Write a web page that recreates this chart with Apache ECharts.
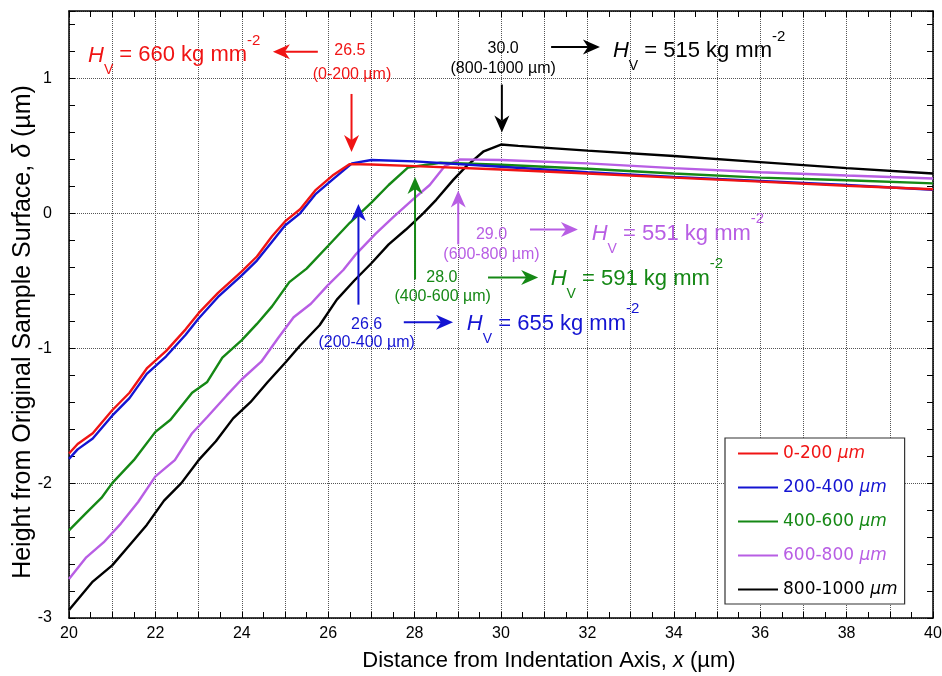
<!DOCTYPE html>
<html>
<head>
<meta charset="utf-8">
<script src="https://cdn.jsdelivr.net/npm/echarts@6/dist/echarts.min.js"></script>
<style>
  html, body { margin: 0; padding: 0; background: #fff; }
  #chart { width: 942px; height: 676px; }
</style>
</head>
<body>
<div id="chart"></div>
<script>
// profile x positions (µm) and heights (µm)
const xRed = [20, 20.2, 20.55, 21, 21.4, 21.8, 22.25, 22.7, 23, 23.45, 24, 24.35, 24.7, 25, 25.35, 25.7, 26.1, 26.5, 27, 28, 30, 32, 34, 36, 38, 40];
const yRed = [-1.78, -1.71, -1.63, -1.46, -1.33, -1.15, -1.02, -0.86, -0.74, -0.59, -0.43, -0.32, -0.17, -0.06, 0.03, 0.17, 0.28, 0.365, 0.362, 0.35, 0.325, 0.295, 0.265, 0.235, 0.205, 0.178];

const xBlue = [20, 20.2, 20.55, 21, 21.4, 21.8, 22.25, 22.7, 23, 23.45, 24, 24.35, 24.7, 25, 25.35, 25.7, 26.1, 26.55, 27, 28, 30, 32, 34, 36, 38, 40];
const yBlue = [-1.82, -1.75, -1.67, -1.5, -1.37, -1.19, -1.06, -0.9, -0.78, -0.62, -0.46, -0.35, -0.21, -0.09, 0, 0.14, 0.25, 0.37, 0.395, 0.385, 0.345, 0.305, 0.27, 0.24, 0.21, 0.175];

const xGreen = [20, 20.4, 20.75, 21, 21.5, 22, 22.35, 22.85, 23.2, 23.55, 24, 24.35, 24.7, 25.1, 25.5, 26, 26.5, 27, 27.4, 27.85, 28.6, 30, 32, 34, 36, 38, 40];
const yGreen = [-2.35, -2.22, -2.11, -2, -1.83, -1.62, -1.53, -1.33, -1.25, -1.07, -0.94, -0.82, -0.69, -0.51, -0.41, -0.24, -0.07, 0.08, 0.21, 0.34, 0.375, 0.36, 0.33, 0.295, 0.265, 0.245, 0.222];

const xPurple = [20, 20.4, 20.8, 21.2, 21.6, 22, 22.45, 22.85, 23.2, 23.65, 24, 24.45, 24.85, 25.2, 25.6, 26, 26.35, 26.65, 27.1, 27.5, 27.95, 28.35, 28.7, 29.05, 30, 32, 34, 36, 38, 40];
const yPurple = [-2.71, -2.55, -2.44, -2.3, -2.14, -1.95, -1.83, -1.63, -1.51, -1.35, -1.23, -1.1, -0.92, -0.77, -0.67, -0.53, -0.42, -0.3, -0.15, -0.03, 0.1, 0.21, 0.35, 0.4, 0.395, 0.37, 0.335, 0.305, 0.28, 0.258];

const xBlack = [20, 20.55, 21, 21.4, 21.8, 22.2, 22.6, 23, 23.4, 23.8, 24.2, 24.6, 25, 25.35, 25.8, 26.2, 26.6, 27, 27.4, 27.8, 28.2, 28.5, 28.9, 29.2, 29.6, 30, 30.4, 32, 34, 36, 38, 40];
const yBlack = [-2.94, -2.73, -2.61, -2.46, -2.31, -2.13, -2, -1.83, -1.69, -1.52, -1.4, -1.25, -1.11, -0.98, -0.83, -0.64, -0.5, -0.37, -0.23, -0.12, 0, 0.1, 0.25, 0.35, 0.46, 0.51, 0.5, 0.465, 0.425, 0.38, 0.335, 0.295];

const seriesNames = ['0-200 µm', '200-400 µm', '400-600 µm', '600-800 µm', '800-1000 µm'];
const seriesColors = ['#f01414', '#1414d2', '#158815', '#b85ee4', '#000000'];
const xData = [xRed, xBlue, xGreen, xPurple, xBlack];
const yData = [yRed, yBlue, yGreen, yPurple, yBlack];

// annotations: kink position, depth range, hardness
const peakLabels = ['26.5', '26.6', '28.0', '29.0', '30.0'];
const rangeLabels = ['(0-200 µm)', '(200-400 µm)', '(400-600 µm)', '(600-800 µm)', '(800-1000 µm)'];
const hardness = ['660', '655', '591', '551', '515'];

const FONT = '"Liberation Sans", Arial, Helvetica, sans-serif';
const WIDE = '"DejaVu Sans", Verdana, sans-serif';

const chart = echarts.init(document.getElementById('chart'));

const legendRich = {};
seriesColors.forEach((c, i) => {
  legendRich['t' + i] = { color: c, fontSize: 17, lineHeight: 18, fontFamily: WIDE };
  legendRich['u' + i] = { color: c, fontSize: 17, lineHeight: 18, fontFamily: WIDE, fontStyle: 'italic' };
});

const tickAxisBase = {
  type: 'value',
  axisLine: { show: true, onZero: false, lineStyle: { color: '#000', width: 1.5 } },
  axisTick: { show: true, inside: true, length: 6, lineStyle: { color: '#000', width: 1 } },
  splitLine: { show: false }
};

const option = {
  animation: false,
  backgroundColor: '#fff',
  textStyle: { fontFamily: FONT },
  grid: { left: 69, right: 9, top: 11, bottom: 58, containLabel: false, outerBoundsMode: 'none' },
  legend: {
    orient: 'vertical',
    left: 725,
    top: 438,
    padding: [7, 7, 6, 12],
    itemWidth: 40,
    itemHeight: 14,
    itemGap: 17,
    backgroundColor: '#fff',
    borderColor: '#333',
    borderWidth: 1.2,
    borderRadius: 0,
    itemStyle: { opacity: 0 },
    data: seriesNames,
    textStyle: { fontSize: 17, rich: legendRich },
    formatter: name => {
      const i = seriesNames.indexOf(name);
      return `{t${i}|${name.replace(' µm', ' ')}}{u${i}|µm}`;
    }
  },
  xAxis: [
    Object.assign({}, tickAxisBase, {
      min: 20, max: 40, interval: 1, position: 'bottom',
      minorTick: { show: true, splitNumber: 2, length: 6, lineStyle: { color: '#000' } },
      axisLabel: { color: '#000', fontSize: 16, margin: 8, formatter: v => (v % 2 === 0 ? String(v) : '') },
      splitLine: { show: true, lineStyle: { type: 'dotted', color: '#555', width: 1 } },
      name: '{a|Distance from Indentation Axis, }{i|x}{a| (µm)}',
      nameLocation: 'middle',
      nameGap: 32,
      nameMoveOverlap: false,
      nameTextStyle: {
        padding: [0, 0, 0, 96],
        rich: {
          a: { fontSize: 22, color: '#000', fontFamily: FONT },
          i: { fontSize: 22, color: '#000', fontFamily: FONT, fontStyle: 'italic' }
        }
      }
    }),
    Object.assign({}, tickAxisBase, {
      min: 20, max: 40, interval: 1, position: 'top',
      minorTick: { show: true, splitNumber: 2, length: 6, lineStyle: { color: '#000' } },
      axisLabel: { show: false }
    })
  ],
  yAxis: [
    Object.assign({}, tickAxisBase, {
      min: -3, max: 1.5, interval: 0.2, position: 'left',
      axisLabel: {
        color: '#000', fontSize: 16, margin: 17,
        formatter: v => (Math.abs(v - Math.round(v)) < 1e-6 ? String(Math.round(v)) : '')
      },
      name: '{a|Height from Original Sample Surface, }{i|δ}{a| (µm)}',
      nameLocation: 'middle',
      nameGap: 33,
      nameMoveOverlap: false,
      nameTextStyle: {
        padding: [0, 35, 0, 0],
        rich: {
          a: { fontSize: 25, color: '#000', fontFamily: FONT },
          i: { fontSize: 25, color: '#000', fontFamily: FONT, fontStyle: 'italic' }
        }
      }
    }),
    Object.assign({}, tickAxisBase, {
      min: -3, max: 1.5, interval: 0.2, position: 'right',
      axisLabel: { show: false }
    }),
    {
      type: 'value', min: -3, max: 1.5, interval: 1, position: 'left',
      axisLine: { show: false }, axisTick: { show: false }, axisLabel: { show: false },
      splitLine: { show: true, lineStyle: { type: 'dotted', color: '#555', width: 1 } }
    }
  ],
  series: seriesNames.map((name, i) => ({
    name: name,
    type: 'line',
    xAxisIndex: 0,
    yAxisIndex: 0,
    symbol: 'none',
    z: 3 + (4 - i),
    lineStyle: { color: seriesColors[i], width: 2.4 },
    itemStyle: { color: seriesColors[i] },
    data: xData[i].map((x, k) => [x, yData[i][k]])
  }))
};

chart.setOption(option);

// arrow placement in data coordinates
const arrows = [
  { c: 0, from: [26.54, 0.885], to: [26.54, 0.455] },
  { c: 0, from: [25.76, 1.197], to: [24.72, 1.197] },
  { c: 4, from: [30.02, 0.955], to: [30.02, 0.6] },
  { c: 4, from: [31.16, 1.234], to: [32.29, 1.234] },
  { c: 1, from: [26.7, -0.677], to: [26.7, 0.07] },
  { c: 1, from: [27.75, -0.808], to: [28.89, -0.808] },
  { c: 2, from: [28.01, -0.49], to: [28.01, 0.27] },
  { c: 2, from: [29.7, -0.476], to: [30.86, -0.476] },
  { c: 3, from: [29.01, -0.23], to: [29.01, 0.17] },
  { c: 3, from: [30.67, -0.119], to: [31.78, -0.119] }
];
// order matches peakLabels / rangeLabels / hardness
const peakPos = [[26.5, 1.204], [26.89, -0.825], [28.63, -0.476], [29.78, -0.156], [30.05, 1.219]];
const rangePos = [[26.55, 1.026], [26.89, -0.959], [28.65, -0.615], [29.78, -0.305], [30.05, 1.071]];
const hvPos = [[20.44, 1.171], [29.21, -0.819], [31.15, -0.485], [32.1, -0.151], [32.59, 1.204]];

const toPx = p => chart.convertToPixel({ xAxisIndex: 0, yAxisIndex: 0 }, p);

const graphics = [];
arrows.forEach(a => {
  const p1 = toPx(a.from), p2 = toPx(a.to);
  const color = seriesColors[a.c];
  const dx = p2[0] - p1[0], dy = p2[1] - p1[1];
  const len = Math.hypot(dx, dy);
  const ux = dx / len, uy = dy / len;
  const L = 17, W = 7.5, notch = 12;
  const base = [p2[0] - ux * notch, p2[1] - uy * notch];
  graphics.push({
    type: 'line', z: 20,
    shape: { x1: p1[0], y1: p1[1], x2: base[0], y2: base[1] },
    style: { stroke: color, lineWidth: 2 }
  });
  graphics.push({
    type: 'polygon', z: 20,
    shape: {
      points: [
        [p2[0], p2[1]],
        [p2[0] - ux * L - uy * W, p2[1] - uy * L + ux * W],
        [base[0], base[1]],
        [p2[0] - ux * L + uy * W, p2[1] - uy * L - ux * W]
      ]
    },
    style: { fill: color }
  });
});

peakLabels.forEach((t, i) => {
  const color = seriesColors[i];
  const p = toPx(peakPos[i]);
  const r = toPx(rangePos[i]);
  graphics.push({
    type: 'text', z: 20, x: p[0], y: p[1],
    style: { text: t, fill: color, fontSize: 16, fontFamily: FONT, align: 'center', verticalAlign: 'middle' }
  });
  graphics.push({
    type: 'text', z: 20, x: r[0], y: r[1],
    style: { text: rangeLabels[i], fill: color, fontSize: 16, fontFamily: FONT, align: 'center', verticalAlign: 'middle' }
  });
  const h = toPx(hvPos[i]);
  graphics.push({
    type: 'text', z: 20, x: h[0], y: h[1],
    style: {
      text: `{h|H}{s|V}{t| = ${hardness[i]} kg mm}{p|-2}`,
      fill: color,
      align: 'left',
      verticalAlign: 'middle',
      rich: {
        h: { fontSize: 22, fontFamily: FONT, fontStyle: 'italic', lineHeight: 44, fill: color },
        s: { fontSize: 14, fontFamily: FONT, lineHeight: 18, verticalAlign: 'bottom', fill: color },
        t: { fontSize: 22, fontFamily: FONT, lineHeight: 44, fill: color },
        p: { fontSize: 15, fontFamily: FONT, lineHeight: 37, verticalAlign: 'top', fill: color }
      }
    }
  });
});

chart.setOption({ graphic: graphics });
</script>
</body>
</html>
